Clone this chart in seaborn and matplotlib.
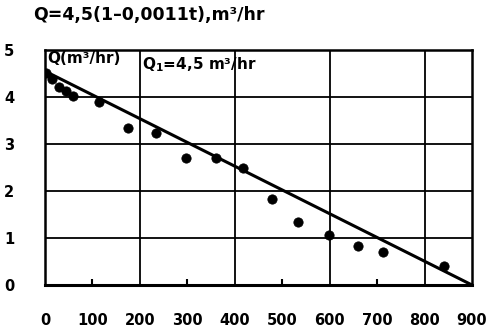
import matplotlib
matplotlib.use("Agg")
import matplotlib.pyplot as plt
import seaborn as sns
import pandas as pd

# data
t_points = [3, 15, 30, 45, 60, 114, 175, 234, 297, 360, 418, 479, 534, 599, 660, 713, 842]
q_points = [4.52, 4.38, 4.22, 4.12, 4.03, 3.9, 3.34, 3.23, 2.70, 2.70, 2.49, 1.83, 1.34, 1.06, 0.83, 0.70, 0.40]
fit_t = [0, 900]
fit_q = [4.55, 0.0]
x_ticks = [0, 100, 200, 300, 400, 500, 600, 700, 800, 900]
y_ticks = [0, 1, 2, 3, 4, 5]
x_grid = [200, 400, 600, 800]
y_grid = [1, 2, 3, 4]
x_small_ticks = [100, 300, 500, 700]

title = "Q=4,5(1\u20130,0011t),m\u00b3/hr"
label_q = "Q(m\u00b3/hr)"
label_q1 = "Q$_1$=4,5 m\u00b3/hr"

sns.set_style("white")
plt.rcParams['font.family'] = ['DejaVu Sans']
plt.rcParams['mathtext.default'] = 'regular'
plt.rcParams['text.color'] = 'black'
plt.rcParams['xtick.color'] = 'black'
plt.rcParams['ytick.color'] = 'black'

fig = plt.figure(figsize=(4.87, 3.33), dpi=100)
ax = fig.add_axes([45/487, 48/333, 427/487, 235/333])

for xv in x_grid:
    ax.axvline(xv, color='black', lw=1.3, zorder=1)
for yv in y_grid:
    ax.axhline(yv, color='black', lw=1.3, zorder=1)

# small inward tick marks on the bottom axis
ax.vlines(x_small_ticks, 0, 0.13, color='black', lw=1.5, zorder=2)

pts = pd.DataFrame({'t': t_points, 'q': q_points})
fit = pd.DataFrame({'t': fit_t, 'q': fit_q})
sns.lineplot(data=fit, x='t', y='q', ax=ax, color='black', lw=2.2, zorder=3)
sns.scatterplot(data=pts, x='t', y='q', ax=ax, color='black', s=45, edgecolor='black', zorder=4)

ax.set_xlim(0, 900)
ax.set_ylim(0, 5)
ax.set_xlabel('')
ax.set_ylabel('')
ax.set_xticks(x_ticks)
ax.set_xticklabels([str(v) for v in x_ticks], fontsize=10.5, fontweight='bold', color='black')
ax.set_yticks(y_ticks)
ax.set_yticklabels([str(v) for v in y_ticks], fontsize=10.5, fontweight='bold', color='black')
ax.tick_params(axis='x', which='major', length=0, pad=20)
ax.tick_params(axis='y', which='major', length=0, pad=22)

for side in ['left', 'right', 'top', 'bottom']:
    ax.spines[side].set_color('black')
    ax.spines[side].set_linewidth(1.8)
ax.spines['bottom'].set_linewidth(2.2)

ax.text(5, 4.98, label_q, fontsize=11, fontweight='bold', va='top', ha='left', zorder=5, color='black')
ax.text(205, 4.88, label_q1, fontsize=11, fontweight='bold', va='top', ha='left', zorder=5, color='black')

fig.text(33/487, 1 - 15/333, title, fontsize=12.5, fontweight='bold', va='center', ha='left', color='black')

fig.savefig('out.png', dpi=100)
